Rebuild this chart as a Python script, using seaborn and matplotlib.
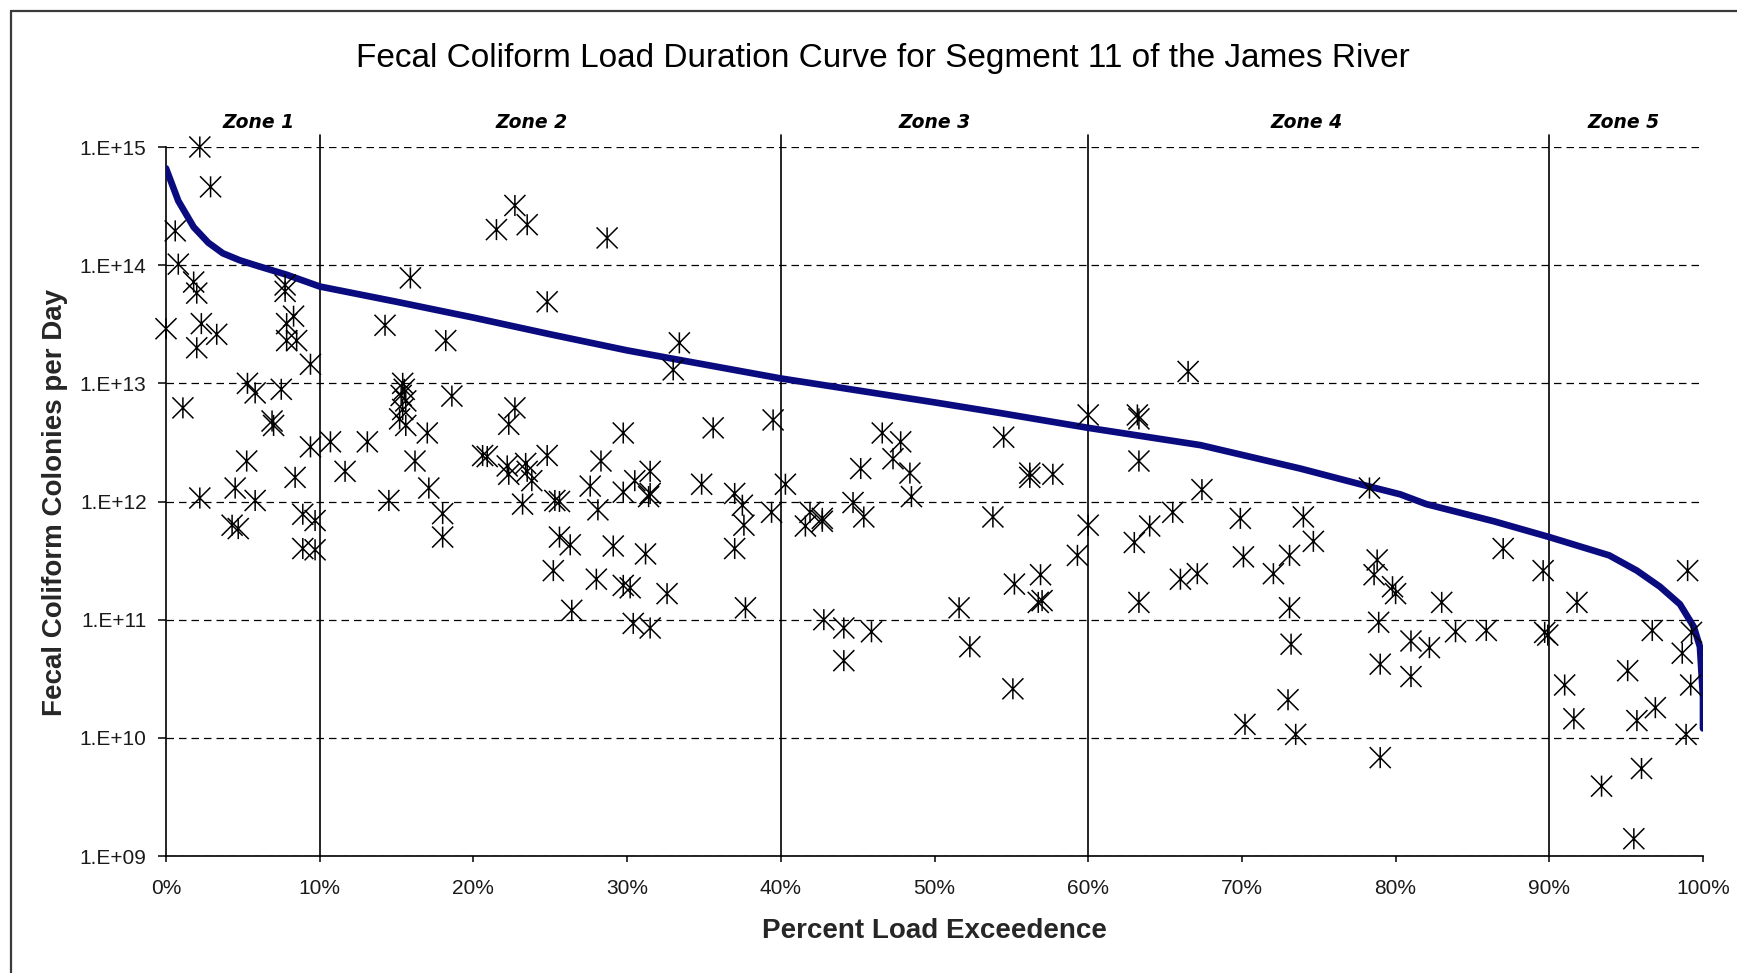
import numpy as np
import pandas as pd
import matplotlib
matplotlib.use("Agg")
import matplotlib.pyplot as plt
import seaborn as sns
from matplotlib.path import Path
from matplotlib.lines import Line2D
from matplotlib.ticker import NullLocator

# ---------------- data ----------------
title = "Fecal Coliform Load Duration Curve for Segment 11 of the James River"
x_label = "Percent Load Exceedence"
y_label = "Fecal Coliform Colonies per Day"

# load duration curve (percent exceedance, colonies/day)
curve_pct = [0.0, 0.8, 1.8, 2.75, 3.7, 4.8, 5.8, 7.85, 10.0, 15.0, 20.0, 25.0,
             30.0, 40.0, 50.0, 54.3, 60.0, 67.3, 73.8, 77.7, 80.3, 82.0, 86.4,
             90.0, 93.9, 95.7, 97.2, 98.5, 99.4, 99.8, 100.0, 100.0]
curve_load = [6.6e14, 3.5e14, 2.1e14, 1.55e14, 1.26e14, 1.1e14, 1.0e14, 8.3e13,
              6.6e13, 4.9e13, 3.6e13, 2.6e13, 1.9e13, 1.1e13, 6.9e12, 5.6e12,
              4.2e12, 3.0e12, 1.9e12, 1.4e12, 1.15e12, 9.5e11, 6.8e11, 5.0e11,
              3.5e11, 2.6e11, 1.9e11, 1.35e11, 8.7e10, 5.9e10, 2.2e10, 1.2e10]

# observed samples (percent exceedance, colonies/day)
sample_pct = [
    0.0, 0.6, 0.8, 1.1, 1.8, 2.0, 2.0, 2.2, 2.2, 2.3, 2.9, 3.3, 4.3, 4.5, 4.7,
    5.3, 5.25, 5.8, 5.8, 6.9, 7.0, 7.5, 7.75, 7.75, 8.3, 7.85, 7.85, 8.5, 9.4,
    8.4, 9.4, 8.9, 9.7, 8.9, 9.7,
    10.7, 11.65, 13.1, 14.25, 14.5, 15.4, 15.5, 15.3, 15.6, 15.4, 15.2, 15.6,
    15.9, 16.2, 17.0, 17.1, 18.2, 18.6, 18.0, 18.0, 20.6, 20.9, 21.5, 22.7,
    23.5, 22.7, 22.3, 22.2, 22.3, 23.4, 23.5, 23.8, 24.8, 23.2, 24.8, 25.3,
    25.6, 25.6, 26.3, 25.2, 26.4, 28.0, 28.3, 27.6, 28.1, 28.7, 29.1, 29.75,
    29.75, 29.75, 30.2, 30.4, 30.5, 31.5, 31.5, 31.4, 31.2, 31.5, 32.6, 33.4,
    33.0, 34.85, 35.6, 37.0, 37.5, 37.6, 37.0, 37.7, 39.5, 39.4,
    40.3, 41.9, 41.6, 42.7, 42.7, 42.8, 44.1, 44.1, 44.7, 45.4, 45.2, 45.9,
    46.6, 47.8, 47.3, 48.4, 48.5, 51.6, 52.3, 53.8, 54.5, 55.1, 55.2, 56.2,
    56.2, 56.9, 56.75, 57.0, 57.7, 59.3,
    60.0, 60.0, 63.0, 63.2, 63.3, 63.3, 63.3, 64.0, 65.5, 66.0, 66.5, 67.1,
    67.4, 69.9, 70.1, 70.2, 72.05, 73.1, 73.1, 73.2, 73.0, 73.5, 74.0, 74.65,
    78.3, 78.8, 78.6, 79.8, 80.0, 78.9, 79.0, 79.0, 81.0, 81.0, 82.2, 83.0,
    83.9, 85.9, 87.0, 89.6, 89.7, 89.9,
    91.8, 91.0, 91.6, 93.4, 95.1, 95.7, 96.0, 95.5, 96.9, 96.7, 98.65, 99.2,
    98.9, 99.0, 99.25]
sample_load = [
    2.9e13, 1.95e14, 1.02e14, 6.2e12, 7.2e13, 5.8e13, 2.0e13, 1.0e15, 1.07e12,
    3.2e13, 4.6e14, 2.6e13, 6.3e11, 1.3e12, 5.9e11, 1.0e13, 2.2e12, 8.3e12,
    1.02e12, 4.8e12, 4.4e12, 8.9e12, 6.8e13, 6.0e13, 3.7e13, 3.2e13, 2.3e13,
    2.3e13, 1.45e13, 1.6e12, 2.9e12, 7.8e11, 6.9e11, 4.0e11, 3.9e11,
    3.2e12, 1.8e12, 3.2e12, 3.1e13, 1.02e12, 1.0e13, 8.9e12, 7.9e12, 7.1e12,
    6.0e12, 5.0e12, 4.4e12, 7.8e13, 2.2e12, 3.8e12, 1.3e12, 2.3e13, 7.8e12,
    7.9e11, 5.0e11, 2.45e12, 2.4e12, 2.0e14, 3.2e14, 2.2e14, 6.2e12, 4.5e12,
    2.0e12, 1.7e12, 2.1e12, 1.8e12, 1.5e12, 2.45e12, 9.5e11, 4.9e13, 1.02e12,
    1.0e12, 5.0e11, 4.3e11, 2.6e11, 1.2e11, 2.2e11, 2.2e12, 1.35e12, 8.5e11,
    1.7e14, 4.2e11, 3.8e12, 1.2e12, 1.95e11, 1.86e11, 9.3e10, 1.5e12, 1.8e12,
    1.17e12, 1.1e12, 3.6e11, 8.5e10, 1.66e11, 2.2e13, 1.3e13, 1.4e12, 4.2e12,
    1.17e12, 9.3e11, 6.3e11, 4.0e11, 1.26e11, 4.9e12, 8.1e11,
    1.4e12, 8.1e11, 6.2e11, 7.2e11, 6.8e11, 1.0e11, 8.5e10, 4.5e10, 9.8e11,
    7.4e11, 1.9e12, 7.9e10, 3.8e12, 3.2e12, 2.3e12, 1.74e12, 1.1e12, 1.26e11,
    5.9e10, 7.4e11, 3.5e12, 2.6e10, 2.0e11, 1.74e12, 1.6e12, 2.4e11, 1.4e11,
    1.45e11, 1.7e12, 3.5e11,
    5.4e12, 6.3e11, 4.5e11, 5.4e12, 5.0e12, 2.2e12, 1.4e11, 6.2e11, 8.1e11,
    2.2e11, 1.26e13, 2.45e11, 1.26e12, 7.2e11, 3.4e11, 1.3e10, 2.45e11, 3.5e11,
    1.26e11, 6.2e10, 2.1e10, 1.07e10, 7.4e11, 4.6e11,
    1.3e12, 3.2e11, 2.4e11, 1.9e11, 1.66e11, 9.5e10, 4.2e10, 6.8e9, 6.6e10,
    3.3e10, 5.8e10, 1.4e11, 7.9e10, 8.1e10, 4.0e11, 2.6e11, 7.8e10, 7.4e10,
    1.4e11, 2.8e10, 1.45e10, 3.9e9, 3.7e10, 1.4e10, 5.5e9, 1.4e9, 1.8e10,
    8.1e10, 5.2e10, 2.8e10, 1.07e10, 2.6e11, 7.8e10]

x_ticks = [0, 10, 20, 30, 40, 50, 60, 70, 80, 90, 100]
x_tick_labels = ["0%", "10%", "20%", "30%", "40%", "50%", "60%", "70%", "80%", "90%", "100%"]
y_ticks = [1e9, 1e10, 1e11, 1e12, 1e13, 1e14, 1e15]
y_tick_labels = ["1.E+09", "1.E+10", "1.E+11", "1.E+12", "1.E+13", "1.E+14", "1.E+15"]

zone_bounds = [10, 40, 60, 90]
zone_names = ["Zone 1", "Zone 2", "Zone 3", "Zone 4", "Zone 5"]
zone_label_pct = [6.0, 23.8, 50.0, 74.2, 94.8]

# ---------------- styling ----------------
sns.set_style("white")
plt.rcParams["font.family"] = ["Liberation Sans", "DejaVu Sans"]

W, H = 1737, 973
fig = plt.figure(figsize=(W / 100, H / 100), dpi=100)
fig.patch.set_facecolor("white")

ax_l, ax_r, ax_t, ax_b = 166, 1703, 147, 856
ax = fig.add_axes([ax_l / W, 1 - ax_b / H, (ax_r - ax_l) / W, (ax_b - ax_t) / H])
ax.set_facecolor("white")
ax.set_yscale("log")
ax.set_xlim(0, 100)
ax.set_ylim(1e9, 1e15)

# dashed horizontal gridlines
ax.set_yticks(y_ticks)
ax.set_yticklabels(y_tick_labels)
ax.yaxis.set_minor_locator(NullLocator())
ax.set_xticks(x_ticks)
ax.set_xticklabels(x_tick_labels)
ax.grid(axis="y", color="black", linestyle=(0, (6, 4)), linewidth=0.9, zorder=0)
ax.grid(axis="x", visible=False)
ax.set_axisbelow(True)

# zone dividers
for b in zone_bounds:
    ax.axvline(b, ymin=0, ymax=1.017, color="black", linewidth=1.2,
               clip_on=False, zorder=2)

# load duration curve
curve_df = pd.DataFrame({"pct": curve_pct, "load": curve_load})
sns.lineplot(data=curve_df, x="pct", y="load", ax=ax, estimator=None, sort=False,
             color="#0b0b80", linewidth=4.8, zorder=3, solid_capstyle="round",
             solid_joinstyle="round")

# samples with Excel-style star markers
star = Path([(0, -1), (0, 1), (-1, -1), (1, 1), (-1, 1), (1, -1)],
            [Path.MOVETO, Path.LINETO, Path.MOVETO, Path.LINETO, Path.MOVETO, Path.LINETO])
sample_df = pd.DataFrame({"pct": sample_pct, "load": sample_load})
sns.scatterplot(data=sample_df, x="pct", y="load", ax=ax, marker=star, s=230,
                facecolor="none", edgecolor="black", linewidth=1.1,
                zorder=4, clip_on=False)

# spines & ticks
for side in ["top", "right"]:
    ax.spines[side].set_visible(False)
for side in ["left", "bottom"]:
    ax.spines[side].set_color("black")
    ax.spines[side].set_linewidth(1.2)
ax.tick_params(axis="y", which="major", direction="out", length=6, width=1.1,
               pad=8, labelsize=15, colors="black", left=True)
ax.tick_params(axis="x", which="major", direction="out", length=4.5, width=1.1,
               pad=12, labelsize=15, colors="black", bottom=True)
for lab in ax.get_xticklabels() + ax.get_yticklabels():
    lab.set_color("#1a1a1a")

# axis labels
ax.set_xlabel(x_label, fontsize=20, fontweight="bold", va="center")
ax.xaxis.set_label_coords(0.5, (ax_b - 931) / (ax_b - ax_t))
ax.set_ylabel(y_label, fontsize=20, fontweight="bold", va="center")
ax.yaxis.set_label_coords((55 - ax_l) / (ax_r - ax_l), (ax_b - 503) / (ax_b - ax_t))

# zone labels
for name, p in zip(zone_names, zone_label_pct):
    ax.text(p, 1 + 24 / (ax_b - ax_t), name, transform=ax.get_xaxis_transform(),
            ha="center", va="center", fontsize=13.5, fontweight="bold",
            fontstyle="italic", family=["DejaVu Sans"], color="black")

# title
fig.text(883 / W, 1 - 58 / H, title, ha="center", va="center", fontsize=24,
         color="black")

# chart-area border (left and top edges visible in the reference)
fig.add_artist(Line2D([11 / W, 11 / W], [0, 1 - 11 / H], transform=fig.transFigure,
                      color="#3a3a3a", linewidth=1.6))
fig.add_artist(Line2D([11 / W, 1], [1 - 11 / H, 1 - 11 / H], transform=fig.transFigure,
                      color="#3a3a3a", linewidth=1.6))

fig.savefig("out.png", dpi=100, facecolor="white")
